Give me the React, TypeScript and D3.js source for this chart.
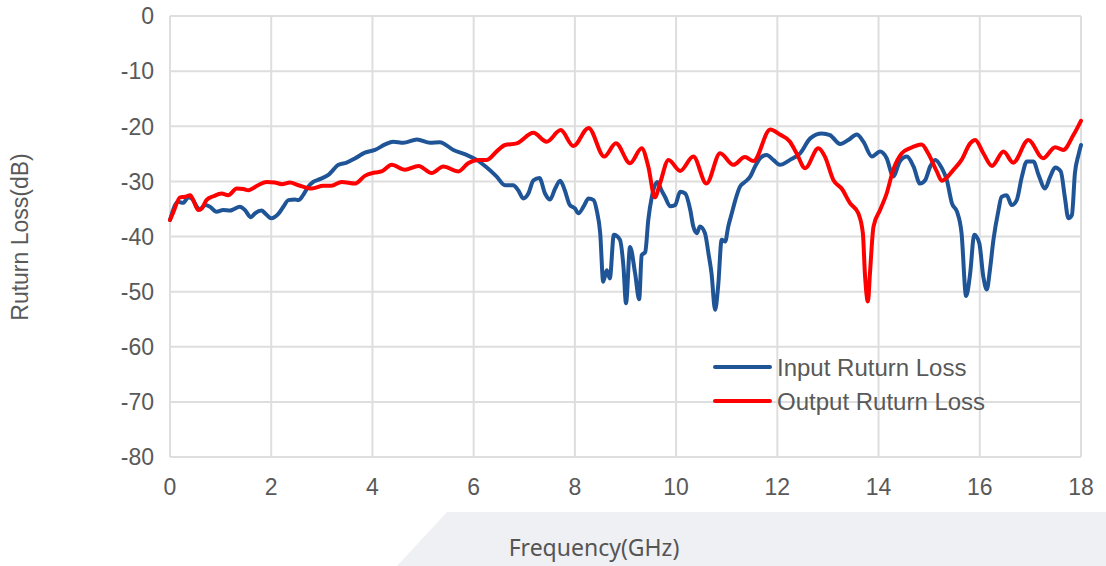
import React from "react";
import * as d3 from "d3";

const xTicks = [0, 2, 4, 6, 8, 10, 12, 14, 16, 18];
const yTicks = [0, -10, -20, -30, -40, -50, -60, -70, -80];

const inputFreq = [0.00,0.16,0.26,0.36,0.43,0.53,0.59,0.69,0.79,0.92,1.05,1.19,1.25,1.38,1.48,1.60,1.68,1.81,1.88,2.00,2.14,2.24,2.34,2.47,2.54,2.63,2.73,2.83,2.96,3.13,3.33,3.49,3.66,3.85,4.05,4.25,4.41,4.61,4.88,5.14,5.33,5.60,5.86,6.06,6.26,6.45,6.62,6.78,6.88,6.98,7.08,7.18,7.30,7.41,7.51,7.61,7.71,7.80,7.90,8.00,8.07,8.17,8.27,8.37,8.43,8.50,8.56,8.63,8.69,8.77,8.89,8.96,9.01,9.09,9.19,9.27,9.32,9.39,9.45,9.52,9.63,9.71,9.78,9.88,9.98,10.08,10.18,10.28,10.34,10.41,10.47,10.57,10.64,10.70,10.77,10.83,10.90,10.97,11.03,11.10,11.17,11.26,11.36,11.46,11.56,11.66,11.79,11.92,12.05,12.25,12.45,12.65,12.88,13.04,13.24,13.40,13.57,13.70,13.87,14.03,14.16,14.29,14.42,14.56,14.69,14.82,14.92,15.02,15.12,15.25,15.35,15.45,15.55,15.64,15.73,15.81,15.89,15.99,16.07,16.14,16.20,16.27,16.37,16.43,16.53,16.63,16.73,16.83,16.93,17.06,17.16,17.29,17.39,17.49,17.60,17.68,17.75,17.82,17.88,17.95,18.00];
const inputLoss = [-37.0,-33.7,-33.9,-32.9,-33.1,-34.6,-35.1,-34.3,-34.6,-35.5,-35.2,-35.3,-35.1,-34.6,-35.2,-36.5,-35.8,-35.3,-35.8,-36.7,-35.9,-34.6,-33.4,-33.3,-33.4,-32.5,-31.0,-30.1,-29.6,-28.8,-27.0,-26.6,-25.8,-24.8,-24.3,-23.3,-22.8,-23.0,-22.4,-23.0,-22.9,-24.3,-25.2,-26.1,-27.5,-29.1,-30.7,-30.7,-31.6,-33.1,-32.2,-29.8,-29.4,-32.2,-33.3,-31.3,-29.9,-31.6,-34.3,-34.9,-35.8,-34.6,-33.1,-33.4,-35.2,-39.4,-48.2,-46.1,-47.6,-39.7,-40.6,-45.5,-52.1,-41.9,-46.7,-51.4,-43.4,-42.8,-37.0,-32.8,-30.1,-31.6,-32.8,-34.5,-34.3,-31.9,-32.2,-35.2,-38.2,-39.4,-38.2,-39.4,-43.1,-46.7,-53.3,-49.1,-40.6,-40.9,-38.2,-35.8,-33.4,-31.0,-30.1,-29.2,-27.3,-25.8,-25.2,-26.1,-27.0,-26.1,-24.9,-22.2,-21.3,-21.6,-23.2,-22.5,-21.5,-22.8,-25.5,-24.6,-25.8,-29.1,-26.4,-25.5,-27.3,-30.4,-29.8,-27.3,-26.1,-27.6,-29.8,-34.0,-35.5,-39.4,-50.8,-46.7,-39.7,-41.2,-47.3,-49.6,-46.1,-40.6,-35.2,-32.8,-32.5,-34.3,-33.4,-29.2,-26.4,-26.4,-28.8,-31.3,-29.2,-27.5,-28.2,-32.8,-36.7,-36.1,-28.5,-25.2,-23.4];

const outputFreq = [0.00,0.07,0.20,0.30,0.40,0.46,0.56,0.63,0.72,0.86,1.02,1.15,1.32,1.45,1.55,1.74,1.91,2.07,2.21,2.37,2.54,2.80,3.03,3.19,3.39,3.66,3.85,4.05,4.18,4.38,4.64,4.91,5.17,5.40,5.70,5.89,6.09,6.26,6.45,6.62,6.85,7.18,7.44,7.72,7.97,8.27,8.58,8.81,9.09,9.32,9.45,9.58,9.68,9.85,10.08,10.34,10.60,10.87,11.13,11.36,11.53,11.86,12.05,12.25,12.38,12.55,12.81,12.94,13.11,13.27,13.44,13.60,13.69,13.73,13.79,13.83,13.90,14.03,14.16,14.29,14.46,14.62,14.85,14.98,15.15,15.25,15.48,15.64,15.81,15.91,16.07,16.24,16.47,16.66,16.96,17.25,17.49,17.65,17.85,18.00];
const outputLoss = [-37.0,-35.5,-32.9,-32.8,-32.5,-33.4,-35.2,-34.9,-33.4,-32.7,-32.2,-32.5,-31.3,-31.4,-31.6,-30.7,-30.1,-30.2,-30.5,-30.2,-30.7,-31.3,-30.8,-30.8,-30.1,-30.4,-29.0,-28.4,-28.2,-27.0,-27.9,-27.2,-28.5,-27.3,-28.2,-26.7,-26.1,-26.1,-24.6,-23.4,-23.1,-21.2,-22.8,-20.7,-23.6,-20.3,-25.5,-23.1,-26.7,-24.0,-27.3,-32.9,-30.4,-26.1,-28.1,-25.5,-30.4,-24.9,-27.0,-25.6,-26.3,-20.6,-21.5,-22.8,-24.9,-27.6,-24.0,-25.5,-29.8,-31.3,-34.0,-35.8,-39.4,-46.7,-51.8,-46.7,-38.2,-35.2,-32.2,-27.9,-24.9,-24.0,-23.3,-24.9,-28.2,-29.9,-27.9,-26.1,-23.1,-22.5,-24.9,-27.2,-24.6,-26.6,-22.5,-25.8,-23.8,-24.3,-21.6,-19.0];

const seriesNames = ["Input Ruturn Loss", "Output Ruturn Loss"];
const seriesColors = ["#1f5597", "#ff0000"];

const W = 1106;
const H = 566;

export default function App() {
  const x = d3.scaleLinear().domain([0, 18]).range([170, 1081]);
  const y = d3.scaleLinear().domain([0, -80]).range([16, 457]);

  const line = d3
    .line<[number, number]>()
    .x((d) => x(d[0]))
    .y((d) => y(d[1]))
    .curve(d3.curveMonotoneX);

  const inputPts: [number, number][] = inputFreq.map((f, i) => [f, inputLoss[i]]);
  const outputPts: [number, number][] = outputFreq.map((f, i) => [f, outputLoss[i]]);
  const paths = [line(inputPts) || "", line(outputPts) || ""];

  const tickFont = "'Liberation Sans', Arial, sans-serif";

  return (
    <div style={{ position: "absolute", left: 0, top: 0 }}>
      <svg width={W} height={H} style={{ display: "block", background: "#fff" }}>
        <polygon points={`397,${H} 447,512 ${W},512 ${W},${H}`} fill="#eff0f4" />
        {yTicks.map((t) => (
          <line key={"gy" + t} x1={x(0)} x2={x(18)} y1={y(t)} y2={y(t)} stroke="#dedede" strokeWidth={2} />
        ))}
        {xTicks.map((t) => (
          <line key={"gx" + t} x1={x(t)} x2={x(t)} y1={y(0)} y2={y(-80)} stroke="#dedede" strokeWidth={2} />
        ))}
        {yTicks.map((t) => (
          <text key={"ty" + t} x={154} y={y(t)} dy="0.36em" textAnchor="end" fontFamily={tickFont} fontSize={23} fill="#595959">
            {t}
          </text>
        ))}
        {xTicks.map((t) => (
          <text key={"tx" + t} x={x(t)} y={495} textAnchor="middle" fontFamily={tickFont} fontSize={23} fill="#595959">
            {t}
          </text>
        ))}
        <text
          transform={`translate(28, 237) rotate(-90)`}
          textAnchor="middle"
          fontFamily={tickFont}
          fontSize={23}
          fill="#595959"
        >
          Ruturn Loss(dB)
        </text>
        <text x={594} y={556} textAnchor="middle" fontFamily="'Noto Sans', 'Open Sans', sans-serif" fontSize={23} fill="#555">
          Frequency(GHz)
        </text>
        {paths.map((p, i) => (
          <path key={"s" + i} d={p} fill="none" stroke={seriesColors[i]} strokeWidth={4} strokeLinejoin="round" strokeLinecap="round" />
        ))}
        {seriesNames.map((n, i) => (
          <g key={"lg" + i} transform={`translate(0, ${367 + i * 34})`}>
            <line x1={715} x2={770} y1={0} y2={0} stroke={seriesColors[i]} strokeWidth={4} strokeLinecap="round" />
            <text x={777} y={0} dy="0.36em" fontFamily={tickFont} fontSize={24} fill="#595959">
              {n}
            </text>
          </g>
        ))}
      </svg>
    </div>
  );
}
